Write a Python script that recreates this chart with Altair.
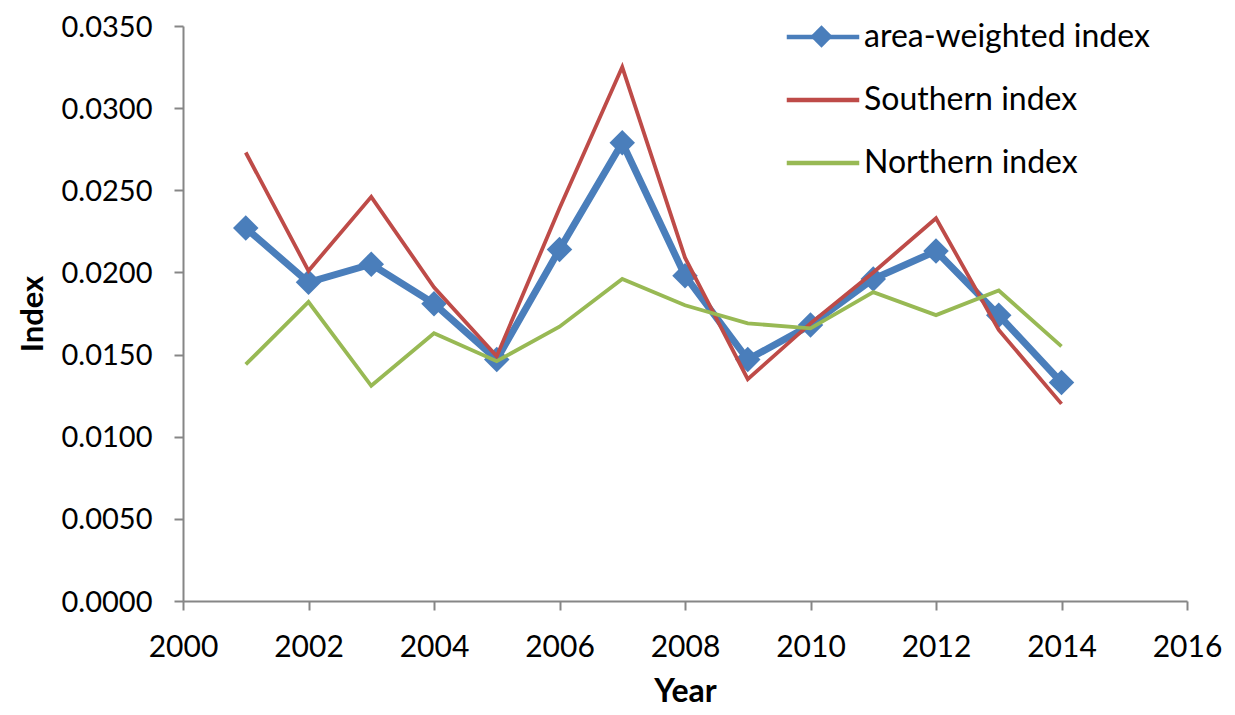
import altair as alt
import pandas as pd

years = list(range(2001, 2015))
area_weighted = [0.0227, 0.0194, 0.0205, 0.0181, 0.0147, 0.0214, 0.0279,
                 0.0198, 0.0147, 0.0168, 0.0196, 0.0213, 0.0174, 0.0133]
southern = [0.0273, 0.0201, 0.0246, 0.0191, 0.0149, 0.0239, 0.0325,
            0.0209, 0.0135, 0.0169, 0.0200, 0.0233, 0.0165, 0.0120]
northern = [0.0144, 0.0182, 0.0131, 0.0163, 0.0146, 0.0167, 0.0196,
            0.0180, 0.0169, 0.0166, 0.0188, 0.0174, 0.0189, 0.0155]

series_names = ["area-weighted index", "Southern index", "Northern index"]
series_colors = ["#4A7EBB", "#BE4B48", "#98B954"]
x_ticks = list(range(2000, 2017, 2))
y_ticks = [0.0, 0.005, 0.01, 0.015, 0.02, 0.025, 0.03, 0.035]

rows = []
for name, vals in zip(series_names, [area_weighted, southern, northern]):
    for y, v in zip(years, vals):
        rows.append({"Year": y, "Index": v, "series": name, "marker": name})
df = pd.DataFrame(rows)

FONT = "Lato"

x_enc = alt.X("Year:Q", scale=alt.Scale(domain=[2000, 2016], nice=False, zero=False),
              axis=alt.Axis(values=x_ticks, format="d", title="Year", labelFlush=False,
                            titlePadding=14, labelPadding=22, labelFontSize=30))
y_enc = alt.Y("Index:Q", scale=alt.Scale(domain=[0, 0.035], nice=False),
              axis=alt.Axis(values=y_ticks, format=".4f", title="Index",
                            titlePadding=12, labelPadding=22, labelFontSize=29,
                            labelOffset=1, titleFontSize=31))

color_enc = alt.Color(
    "series:N",
    scale=alt.Scale(domain=series_names, range=series_colors),
    legend=alt.Legend(
        title=None, orient="none", legendX=623, legendY=-6,
        symbolType="M-2.5,0L2.5,0", symbolSize=841, symbolStrokeWidth=4.5,
        labelOffset=24, rowPadding=30, padding=0, labelLimit=500,
        labelFontSize=32, labelFont=FONT, labelColor="#000000",
    ),
)

base = alt.Chart(df)

blue_line = base.transform_filter(alt.datum.series == series_names[0]).mark_line(
    strokeWidth=7
).encode(x=x_enc, y=y_enc, color=color_enc)

blue_pts = base.transform_filter(alt.datum.series == series_names[0]).mark_point(
    shape="diamond", filled=True, size=650, opacity=1, color=series_colors[0]
).encode(
    x=x_enc, y=y_enc,
    shape=alt.Shape("marker:N",
                    scale=alt.Scale(domain=[series_names[0]], range=["diamond"]),
                    legend=alt.Legend(title=None, orient="none", legendX=627, legendY=-1,
                                      symbolSize=500, labelExpr="''", padding=0,
                                      labelFontSize=1, symbolStrokeWidth=0,
                                      symbolFillColor=series_colors[0])),
)

red_line = base.transform_filter(alt.datum.series == series_names[1]).mark_line(
    strokeWidth=3.8
).encode(x=x_enc, y=y_enc, color=color_enc)

green_line = base.transform_filter(alt.datum.series == series_names[2]).mark_line(
    strokeWidth=3.8
).encode(x=x_enc, y=y_enc, color=color_enc)

chart = alt.layer(blue_line, blue_pts, red_line, green_line).properties(
    width=1004, height=575,
    autosize=alt.AutoSizeParams(type="none"),
    padding={"left": 175, "top": 18, "right": 40, "bottom": 106},
    background="white",
).configure_view(stroke=None).configure_axis(
    grid=False, domainColor="#868686", tickColor="#868686", domainWidth=2,
    tickWidth=2, tickSize=9, labelFont=FONT, labelColor="#000000",
    titleFont=FONT, titleFontSize=32, titleFontWeight="bold", titleColor="#000000",
)

chart.save("out.html", embed_options={"renderer": "svg", "actions": False})
